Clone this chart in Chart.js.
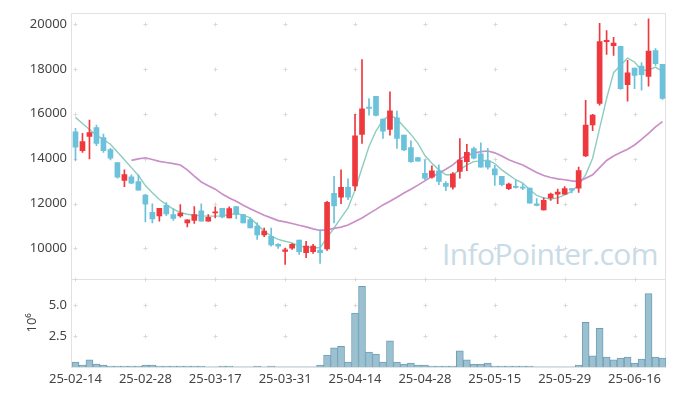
<!DOCTYPE html>
<html lang="en">
<head>
<meta charset="UTF-8">
<title>Candle chart</title>
<script src="https://cdn.jsdelivr.net/npm/chart.js"></script>
<style>
  body { margin: 0; background: #fff; }
  .wrap { position: relative; width: 677px; height: 396px; }
  .mark {
    position: absolute; left: 442px; top: 239px;
    font: 30px/30px "Open Sans", sans-serif; color: #c8dbe6; letter-spacing: -0.6px;
  }
  canvas { position: absolute; left: 0; top: 0; }
</style>
</head>
<body>
<div class="wrap">
  <div class="mark">InfoPointer.com</div>
  <canvas id="chart" width="677" height="396"></canvas>
</div>
<script>
const dates = [
  "25-02-14","25-02-17","25-02-18","25-02-19","25-02-20","25-02-21","25-02-24","25-02-25","25-02-26","25-02-27",
  "25-02-28","25-03-04","25-03-05","25-03-06","25-03-07","25-03-10","25-03-11","25-03-12","25-03-13","25-03-14",
  "25-03-17","25-03-18","25-03-19","25-03-20","25-03-21","25-03-24","25-03-25","25-03-26","25-03-27","25-03-28",
  "25-03-31","25-04-01","25-04-02","25-04-03","25-04-04","25-04-07","25-04-08","25-04-09","25-04-10","25-04-11",
  "25-04-14","25-04-15","25-04-16","25-04-17","25-04-18","25-04-21","25-04-22","25-04-23","25-04-24","25-04-25",
  "25-04-28","25-04-29","25-04-30","25-05-02","25-05-07","25-05-08","25-05-09","25-05-12","25-05-13","25-05-14",
  "25-05-15","25-05-16","25-05-19","25-05-20","25-05-21","25-05-22","25-05-23","25-05-26","25-05-27","25-05-28",
  "25-05-29","25-05-30","25-06-02","25-06-04","25-06-05","25-06-09","25-06-10","25-06-11","25-06-12","25-06-13",
  "25-06-16","25-06-17","25-06-18","25-06-19","25-06-20"
];

const opens = [
  15200,14360,14990,15380,14940,14400,13830,13030,13190,12980,
  12380,11610,11450,11920,11510,11450,11140,11250,11680,11210,
  11580,11790,11360,11860,11510,11280,10990,10600,10540,10180,
  9870,10010,10370,9810,9850,9930,9980,12450,12280,12720,
  12790,15080,16300,16780,15760,15300,15820,15050,14490,14050,
  13350,13180,13460,12900,12730,13430,13870,14450,14210,13900,
  13550,13210,12660,12760,12730,12690,11990,11710,12250,12420,
  12420,12670,12690,14120,15500,16460,19210,19040,19010,17300,
  18040,18130,17670,18820,18200
];
const highs = [
  15350,15130,15720,15500,15100,14460,13830,13500,13280,13280,
  12410,11990,11790,12040,11770,11950,11270,11860,11990,11510,
  11850,11790,11850,11860,11510,11360,11140,10910,10910,10220,
  10000,10210,10370,10320,10180,10840,12100,13210,13500,13100,
  15970,18420,16680,16780,15760,16980,16120,15050,14790,14050,
  13950,13680,13720,12980,13380,14900,14640,14520,14700,14460,
  13700,13210,12910,13030,12880,12690,12220,12250,12470,12640,
  12760,12670,13620,16600,15970,20030,19710,19410,19010,18380,
  18040,18280,20230,18900,18200
];
const lows = [
  13920,14280,13990,14580,14280,13940,13130,12750,12880,12590,
  11180,11140,11210,11460,11250,11390,10960,11110,11210,11210,
  11360,11360,11360,11330,11140,10910,10400,10520,10100,10000,
  9290,9960,9730,9590,9780,9330,9910,11140,11990,12170,
  12570,14680,15940,15900,14900,15050,14460,14360,13830,13890,
  13060,13130,12840,12570,12640,13130,13460,13990,13620,13530,
  12810,12790,12620,12690,12620,12020,11890,11700,12140,11990,
  12390,12470,12500,14090,15250,16380,18650,18600,17080,16560,
  17120,17050,17230,18160,16640
];
const closes = [
  14510,14760,15160,14680,14360,14020,13180,13290,12910,12590,
  11980,11310,11790,11540,11340,11570,11270,11510,11210,11390,
  11620,11400,11770,11510,11140,10910,10600,10770,10160,10100,
  9940,10180,9850,10100,10100,9810,12050,11890,12720,12280,
  15020,16220,16240,15930,15230,16130,14900,14390,13870,13890,
  13130,13460,12980,12760,13320,13940,14280,14020,13620,13620,
  13280,12840,12870,12720,12690,12020,11920,12140,12420,12510,
  12670,12600,13470,15500,15940,19220,19270,19150,17120,17820,
  17710,17740,18790,18230,16680
];

// short and long moving average lines
const maShort = [
  15840,15570,15300,15050,14850,14640,14300,13950,13600,13250,
  12800,12480,12180,11950,11750,11600,11520,11480,11450,11440,
  11440,11450,11500,11560,11480,11360,11060,10770,10550,10400,
  10320,10250,10100,10060,10030,10030,10470,10910,11360,11800,
  12600,13580,14540,15230,15720,15940,15760,15420,15080,14680,
  14140,13800,13500,13280,13280,13500,13720,13870,13900,13930,
  13780,13500,13280,13060,12910,12620,12360,12250,12200,12250,
  12390,12540,12840,13280,14020,15350,16680,17830,18160,18480,
  18310,17940,17940,18080,17890
];
const maLong = [
  null,null,null,null,null,null,null,null,13920,13990,
  14040,13960,13880,13830,13780,13720,13500,13220,12960,12790,
  12640,12420,12250,12100,11920,11770,11620,11480,11360,11240,
  11180,11110,11030,10960,10870,10800,10830,10890,10950,11040,
  11200,11360,11550,11740,11940,12100,12280,12470,12640,12820,
  13010,13210,13350,13530,13720,13990,14140,14240,14310,14340,
  14260,14120,13950,13830,13720,13550,13380,13250,13160,13100,
  13060,13010,12980,13130,13280,13600,13920,14120,14270,14420,
  14610,14860,15130,15420,15650
];

// volume, millions of shares
const volumes = [
  0.40,0.16,0.58,0.24,0.16,0.08,0.08,0.08,0.08,0.08,
  0.16,0.16,0.08,0.08,0.08,0.08,0.08,0.08,0.08,0.01,
  0.01,0.08,0.08,0.01,0.01,0.01,0.08,0.01,0.08,0.01,
  0.01,0.01,0.01,0.01,0.01,0.16,0.96,1.54,1.67,0.40,
  4.33,6.49,1.20,1.04,0.40,2.10,0.40,0.24,0.32,0.16,
  0.16,0.08,0.08,0.08,0.08,1.30,0.58,0.24,0.24,0.32,
  0.08,0.08,0.08,0.08,0.08,0.08,0.01,0.01,0.01,0.01,
  0.01,0.01,0.16,3.59,0.90,3.11,0.80,0.58,0.72,0.80,
  0.32,0.64,5.90,0.80,0.72
];

const priceTicks = [10000, 12000, 14000, 16000, 18000, 20000];
const volumeTicks = [2.5, 5.0];

const UP = "#ee393e";
const DOWN = "#6cc2da";
const candleColors = opens.map((o, i) => closes[i] >= o ? UP : DOWN);
const wicks = lows.map((l, i) => [l, highs[i]]);
const bodies = opens.map((o, i) => [o, closes[i]]);

const tickFont = { family: "Noto Sans", size: 13 };

// light frame round each panel plus small crosses where ticks meet
const framePlugin = {
  id: "frame",
  beforeDatasetsDraw(chart) {
    const ctx = chart.ctx;
    const x = chart.scales.x;
    ctx.save();
    ctx.lineWidth = 1;
    ["y", "y2"].forEach(id => {
      const s = chart.scales[id];
      ctx.strokeStyle = "#e2e2e2";
      ctx.strokeRect(Math.round(x.left) - 0.5, Math.round(s.top) + 0.5,
        Math.round(x.right - x.left), Math.round(s.bottom - s.top));
      const ys = s.ticks.map(t => s.getPixelForValue(t.value));
      if (id === "y2") ys.push(s.top);
      ctx.strokeStyle = "#d9d9d9";
      x.ticks.forEach((t, i) => {
        const px = Math.round(x.getPixelForTick(i)) + 0.5;
        ys.forEach(py => {
          py = Math.round(py) + 0.5;
          ctx.beginPath();
          ctx.moveTo(px - 2, py); ctx.lineTo(px + 2, py);
          ctx.moveTo(px, py - 2); ctx.lineTo(px, py + 2);
          ctx.stroke();
        });
      });
    });
    ctx.restore();
  }
};

new Chart(document.getElementById("chart"), {
  data: {
    labels: dates,
    datasets: [
      {
        type: "bar", data: wicks, yAxisID: "y", grouped: false,
        backgroundColor: candleColors, barThickness: 1, minBarLength: 1
      },
      {
        type: "bar", data: bodies, yAxisID: "y", grouped: false,
        backgroundColor: candleColors, barThickness: 5, minBarLength: 1
      },
      {
        type: "bar", data: volumes, yAxisID: "y2", grouped: false,
        backgroundColor: "#9bc1d1", borderColor: "#6f9fb7", borderWidth: 1,
        barPercentage: 1, categoryPercentage: 1
      },
      {
        type: "line", data: maLong, yAxisID: "y",
        borderColor: "#c98fc8", borderWidth: 1.7, pointRadius: 0, tension: 0
      },
      {
        type: "line", data: maShort, yAxisID: "y",
        borderColor: "#8ccdc0", borderWidth: 1.4, pointRadius: 0, tension: 0
      }
    ]
  },
  options: {
    responsive: false,
    animation: false,
    layout: { padding: { left: 20, right: 11, top: 10, bottom: 0 } },
    plugins: { legend: { display: false }, tooltip: { enabled: false } },
    scales: {
      x: {
        type: "category",
        offset: true,
        grid: { display: false, drawTicks: false },
        border: { display: false },
        ticks: { font: tickFont, color: "#444", autoSkip: false, maxRotation: 0, minRotation: 0, padding: 4 },
        afterBuildTicks(scale) { scale.ticks = scale.ticks.filter((t, i) => i % 10 === 0); },
        afterFit(scale) { scale.height = 29; }
      },
      // volume axis is declared first so the price panel lands on top of the stack
      y2: {
        position: "left", stack: "panels", stackWeight: 89,
        min: 0, max: 7.1,
        grid: { display: false, drawTicks: false },
        border: { display: false },
        title: { display: true, text: "10⁶", font: tickFont, color: "#444", padding: { top: 4, bottom: 0 } },
        ticks: { font: tickFont, color: "#444", autoSkip: false, padding: 5, callback: v => v.toFixed(1) },
        afterBuildTicks(scale) { scale.ticks = volumeTicks.map(v => ({ value: v })); },
        afterFit(scale) { scale.width = 52; }
      },
      y: {
        position: "left", stack: "panels", stackWeight: 268,
        min: 8650, max: 20500,
        grid: { display: false, drawTicks: false },
        border: { display: false },
        ticks: { font: tickFont, color: "#444", autoSkip: false, padding: 5, callback: v => String(v) },
        afterBuildTicks(scale) { scale.ticks = priceTicks.map(v => ({ value: v })); },
        afterFit(scale) { scale.width = 52; }
      }
    }
  },
  plugins: [framePlugin]
});
</script>
</body>
</html>
